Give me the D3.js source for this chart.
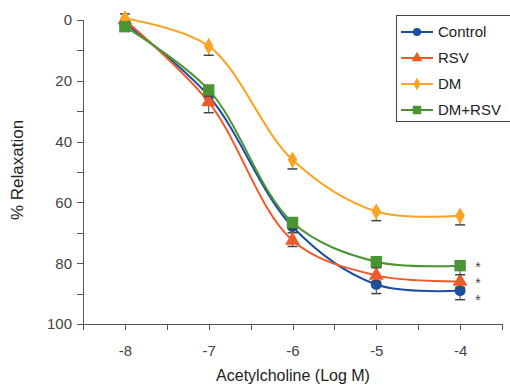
<!DOCTYPE html>
<html lang="en">
<head>
  <meta charset="UTF-8">
  <title>Acetylcholine relaxation</title>
  <style>
    body { margin: 0; background: #fff; font-family: "Liberation Sans", Arial, sans-serif; }
    .axis path, .axis line { fill: none; stroke: #555; shape-rendering: crispEdges; }
    .axis text { fill: #444; font-size: 15px; }
  </style>
  <script src="https://cdn.jsdelivr.net/npm/d3@7"></script>
</head>
<body>
<script>
  // data
  var doses = [-8, -7, -6, -5, -4];
  var control = [1, 25, 68, 87, 89];
  var controlErr = [0, 2.5, 2, 3, 3];
  var rsv = [0, 27, 72.5, 84, 86];
  var rsvErr = [0, 3.5, 2, 2, 2];
  var dm = [-0.5, 8.6, 46, 63, 64.4];
  var dmErr = [-1.5, 3, 3, 3, 3];
  var dmRsv = [2.2, 23, 66.6, 79.5, 80.8];
  var dmRsvErr = [0, 2, 2, 2, 3];
  var xTicks = [-8, -7, -6, -5, -4];
  var yTicks = [0, 20, 40, 60, 80, 100];

  var series = [
    {name: "Control", values: control, err: controlErr, color: "#1a4fa3", shape: d3.symbolCircle, size: 95},
    {name: "RSV", values: rsv, err: rsvErr, color: "#f05a28", shape: d3.symbolTriangle, size: 95},
    {name: "DM", values: dm, err: dmErr, color: "#fba424", shape: d3.symbolDiamond, size: 80},
    {name: "DM+RSV", values: dmRsv, err: dmRsvErr, color: "#4b9433", shape: d3.symbolSquare, size: 130}
  ];

  var width = 510, height = 386;
  var svg = d3.select("body").append("svg")
      .attr("width", width)
      .attr("height", height);

  var x = d3.scaleLinear().domain([-8.5, -3.5]).range([83, 502]);
  var y = d3.scaleLinear().domain([0, 100]).range([20, 324]);

  // x axis
  svg.append("g")
      .attr("class", "axis")
      .attr("transform", "translate(0,324)")
      .call(d3.axisBottom(x).tickValues(d3.range(-8.5, -3.4, 0.5)).tickSizeOuter(0).tickSize(6)
        .tickFormat(function(d) { return xTicks.indexOf(d) >= 0 ? d : ""; }))
      .call(function(g) { g.selectAll("text").attr("dy", "1.55em"); });

  // y axis
  svg.append("g")
      .attr("class", "axis")
      .attr("transform", "translate(83,0)")
      .call(d3.axisLeft(y).tickValues(d3.range(0, 101, 10)).tickSizeOuter(0).tickSize(6)
        .tickFormat(function(d) { return yTicks.indexOf(d) >= 0 ? d : ""; }))
      .call(function(g) { g.selectAll("text").attr("x", -11); });

  // axis titles
  svg.append("text")
      .attr("x", 293).attr("y", 381)
      .attr("text-anchor", "middle")
      .style("font-size", "16px").style("fill", "#222")
      .text("Acetylcholine (Log M)");
  svg.append("text")
      .attr("transform", "translate(23,170) rotate(-90)")
      .attr("text-anchor", "middle")
      .style("font-size", "17px").style("fill", "#222")
      .text("% Relaxation");

  var line = d3.line()
      .x(function(d, i) { return x(doses[i]); })
      .y(function(d) { return y(d); })
      .curve(d3.curveCatmullRom.alpha(0.5));

  series.forEach(function(s) {
    var g = svg.append("g");
    // error bars (one side, with cap)
    s.values.forEach(function(v, i) {
      if (!s.err[i]) return;
      var cx = x(doses[i]), y1 = y(v + s.err[i]);
      g.append("line").attr("x1", cx).attr("x2", cx).attr("y1", y(v)).attr("y2", y1)
          .attr("stroke", "#444").attr("stroke-width", 1);
      g.append("line").attr("x1", cx - 5).attr("x2", cx + 5).attr("y1", y1).attr("y2", y1)
          .attr("stroke", "#444").attr("stroke-width", 1.5);
    });
    g.append("path")
        .attr("d", line(s.values))
        .attr("fill", "none")
        .attr("stroke", s.color)
        .attr("stroke-width", 2);
    g.selectAll("path.pt")
        .data(s.values)
      .enter().append("path")
        .attr("class", "pt")
        .attr("transform", function(d, i) { return "translate(" + x(doses[i]) + "," + y(d) + ")"; })
        .attr("d", d3.symbol().type(s.shape).size(s.size))
        .attr("fill", s.color);
  });

  // significance stars next to the -4 points, spaced so they do not collide
  [{v: dmRsv[4], off: -1.5}, {v: rsv[4], off: -1.5}, {v: control[4], off: 6}].forEach(function(s) {
    svg.append("text")
        .attr("x", 478).attr("y", y(s.v) + s.off + 8)
        .attr("text-anchor", "middle")
        .style("font-size", "14px").style("fill", "#444")
        .text("*");
  });

  // legend
  var legend = svg.append("g");
  legend.append("rect")
      .attr("x", 396.5).attr("y", 15.5).attr("width", 120).attr("height", 106)
      .attr("fill", "#fff").attr("stroke", "#444").attr("stroke-width", 1);
  series.forEach(function(s, i) {
    var ly = 32 + i * 26;
    legend.append("line").attr("x1", 401).attr("x2", 433).attr("y1", ly).attr("y2", ly)
        .attr("stroke", s.color).attr("stroke-width", 2);
    legend.append("path")
        .attr("transform", "translate(417," + ly + ")")
        .attr("d", d3.symbol().type(s.shape).size(s.size * 0.55))
        .attr("fill", s.color);
    legend.append("text")
        .attr("x", 438).attr("y", ly + 5)
        .style("font-size", "15px").style("fill", "#222")
        .text(s.name);
  });
</script>
</body>
</html>
